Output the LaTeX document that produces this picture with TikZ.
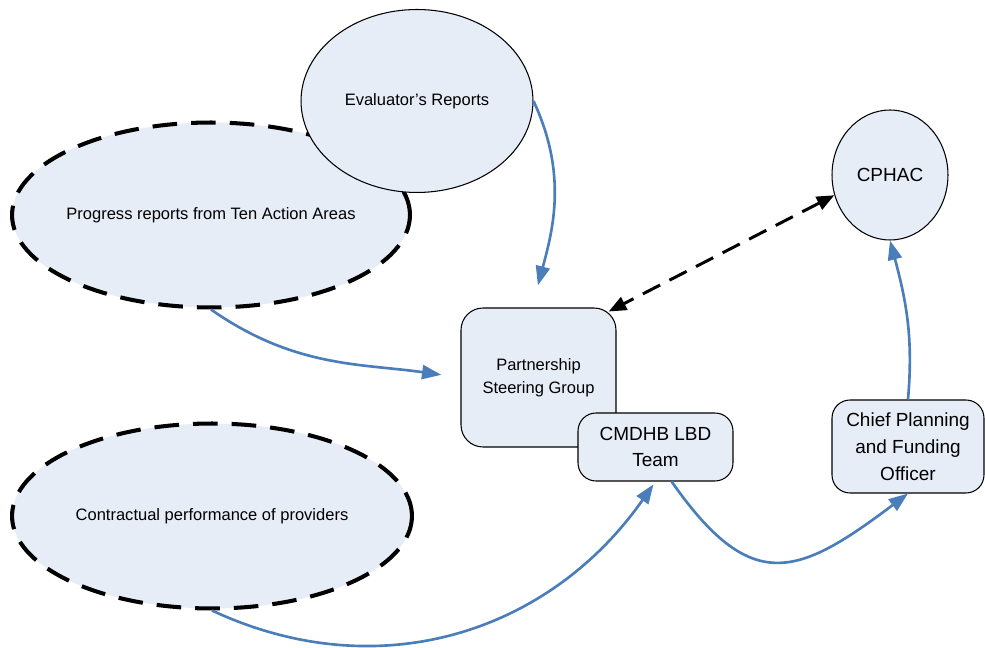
\documentclass[tikz,border=0pt]{standalone}
\usepackage{fontspec}
\setmainfont{Liberation Sans}
\usetikzlibrary{arrows.meta}
\usetikzlibrary{shapes.geometric}

\definecolor{boxfill}{RGB}{231,237,247}
\definecolor{linkblue}{RGB}{74,126,187}

\begin{document}
\begin{tikzpicture}[x=0.02cm, y=-0.02cm,
	every node/.style={draw, fill=boxfill, line width=0.6pt, inner sep=0pt, align=center, font=\fontsize{9.4}{13}\selectfont},
	source/.style={ellipse, line width=2.3pt, dash pattern=on 14pt off 8pt},
	oval/.style={ellipse},
	group/.style={rectangle, rounded corners=0.44cm},
	big/.style={font=\fontsize{10.8}{15.3}\selectfont},
	feed/.style={draw=linkblue, line width=1.5pt, -{Triangle[length=11pt,width=8pt]}},
	link/.style={line width=1.7pt, dash pattern=on 11pt off 6pt, {Triangle[length=10pt,width=8pt]}-{Triangle[length=10pt,width=8pt]}}]
	\useasboundingbox (0,0) rectangle (985,648);

	\node[source, inner xsep=-5pt, minimum width=7.96cm, minimum height=3.7cm] (prog) at (211,215) {Progress reports from Ten Action Areas};
	\node[oval, minimum width=4.64cm, minimum height=3.66cm] (eval) at (417,101) {Evaluator's Reports};
	\node[source, minimum width=8cm, minimum height=3.7cm] (contr) at (212,516) {Contractual performance of providers};
	\node[oval, big, minimum width=2.32cm, minimum height=2.6cm] (cphac) at (890,175) {CPHAC};
	\node[group, minimum width=3.1cm, minimum height=2.78cm] (psg) at (538.5,377.5) {Partnership\\Steering Group};
	\node[group, big, rounded corners=0.36cm, minimum width=3.1cm, minimum height=1.36cm] (team) at (655.5,447) {CMDHB LBD\\Team};
	\node[group, big, rounded corners=0.36cm, minimum width=3.04cm, minimum height=1.86cm] (chief) at (908,446.5) {Chief Planning\\and Funding\\Officer};

	\draw[feed, shorten >=13pt] (eval.east) to[out=-65, in=75] ([xshift=-0.13cm]psg.north);
	\draw[feed, shorten >=11pt] (prog.south) to[out=-35, in=172] (psg.west);
	\draw[feed, looseness=1.02, shorten >=2pt] (contr.south) to[out=-25, in=235] (team.south);
	\draw[feed, looseness=1.5] (team.-65) to[out=-55, in=217] (chief.south);
	\draw[feed] (chief.north) to[out=85, in=-75] (cphac.south);
	\draw[link, shorten >=-5pt] (cphac.200) -- (psg.north east);
\end{tikzpicture}
\end{document}
